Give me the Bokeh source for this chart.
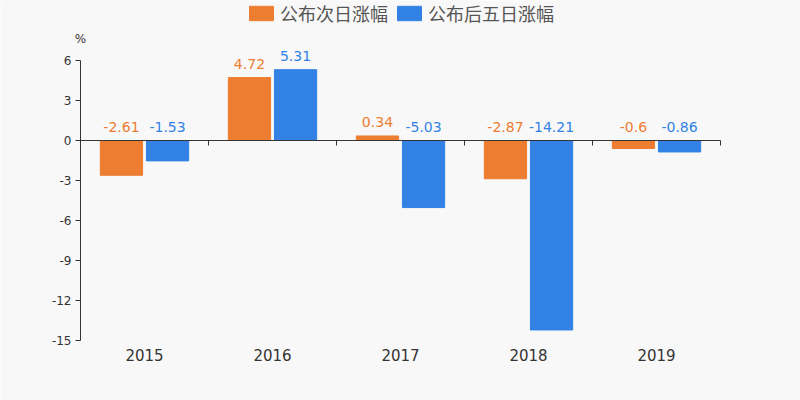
import math
from bokeh.plotting import figure
from bokeh.models import (ColumnDataSource, FactorRange, Range1d, Legend, LegendItem)
from bokeh.core.properties import value
from bokeh.transform import dodge
from bokeh.embed import file_html
from bokeh.resources import INLINE

years = ["2015", "2016", "2017", "2018", "2019"]
next_day = [-2.61, 4.72, 0.34, -2.87, -0.6]
five_day = [-1.53, 5.31, -5.03, -14.21, -0.86]
y_ticks = [-15, -12, -9, -6, -3, 0, 3, 6]
y_min, y_max = -15, 6
series_names = ["公布次日涨幅", "公布后五日涨幅"]
unit_label = "%"

ORANGE = "#ed7d31"
BLUE = "#3182e4"
BG = "#f8f8f8"
AX = "#333333"
FONT = "DejaVu Sans"
CJK = "Noto Sans CJK SC"

PLOT_H = 280                     # pixels from y_max to y_min
px_per_unit = PLOT_H / (y_max - y_min)
CAT_PX = 128                     # pixels per category
SIDE_PAD = 80 / CAT_PX           # frame extends 80 px beyond the categories
MARGIN_V = 60 / px_per_unit      # 60 px above and below the value axis
TICK_FONT_PX = 12
# DejaVu Sans advance widths (em) used to right-align the tick labels
ADV = {"-": 0.361, ".": 0.318}

def fmt(v):
    return f"{v:.2f}".rstrip("0").rstrip(".")

def text_w(s, px):
    return sum(ADV.get(c, 0.636) for c in s) * px

src = ColumnDataSource(dict(
    year=years,
    a=next_day, b=five_day,
    a_lab=[fmt(v) for v in next_day], b_lab=[fmt(v) for v in five_day],
    a_pos=[max(v, 0) for v in next_day], b_pos=[max(v, 0) for v in five_day],
))

p = figure(width=800, height=400,
           x_range=FactorRange(*years, range_padding=SIDE_PAD, range_padding_units="absolute"),
           y_range=Range1d(y_min - MARGIN_V, y_max + MARGIN_V),
           x_axis_location=None, y_axis_location=None,
           output_backend="svg", toolbar_location=None,
           min_border_left=0, min_border_right=0, min_border_top=0, min_border_bottom=0,
           background_fill_color=BG, border_fill_color=BG, outline_line_color=None)
p.xgrid.visible = False
p.ygrid.visible = False

r1 = p.vbar(x=dodge("year", -0.18, range=p.x_range), top="a", bottom=0, width=0.33,
            source=src, fill_color=ORANGE, line_color=ORANGE)
r2 = p.vbar(x=dodge("year", 0.18, range=p.x_range), top="b", bottom=0, width=0.33,
            source=src, fill_color=BLUE, line_color=BLUE)

p.text(x=dodge("year", -0.18, range=p.x_range), y="a_pos", text="a_lab", source=src,
       text_color=ORANGE, text_font=value(FONT), text_font_size="14px", text_align="center",
       text_baseline="bottom", y_offset=-9)
p.text(x=dodge("year", 0.18, range=p.x_range), y="b_pos", text="b_lab", source=src,
       text_color=BLUE, text_font=value(FONT), text_font_size="14px", text_align="center",
       text_baseline="bottom", y_offset=-9)

# zero line from the left edge of the first category to the right edge of the last
zl = ColumnDataSource(dict(a=years[:1], b=years[-1:]))
p.segment(x0=dodge("a", -0.5, range=p.x_range), x1=dodge("b", 0.5, range=p.x_range),
          y0=0, y1=0, source=zl, line_color=AX, line_width=1)
# ticks at category boundaries, pointing down
p.ray(x=dodge("year", 0.5, range=p.x_range), y=0, length=5, length_units="screen",
      angle=-math.pi / 2, source=ColumnDataSource(dict(year=years)),
      line_color=AX, line_width=1)

# category labels below the plot area
p.text(x="year", y=y_min, text="year", source=ColumnDataSource(dict(year=years)),
       text_color=AX, text_font=value(FONT), text_font_size="15px",
       text_align="center", text_baseline="middle", y_offset=14)

# value axis at the left edge of the first category
first = ColumnDataSource(dict(year=years[:1]))
tick_labels = [str(t) for t in y_ticks]
ysrc = ColumnDataSource(dict(year=[years[0]] * len(y_ticks), y=y_ticks, lab=tick_labels,
                             xo=[-(9 + text_w(s, TICK_FONT_PX) / 2) for s in tick_labels]))
p.segment(x0=dodge("year", -0.5, range=p.x_range), x1=dodge("year", -0.5, range=p.x_range),
          y0=y_min, y1=y_max, source=first, line_color=AX, line_width=1)
p.ray(x=dodge("year", -0.5, range=p.x_range), y="y", length=5, length_units="screen",
      angle=math.pi, source=ysrc, line_color=AX, line_width=1)
p.text(x=dodge("year", -0.5, range=p.x_range), y="y", text="lab", source=ysrc,
       text_color=AX, text_font=value(FONT), text_font_size=f"{TICK_FONT_PX}px",
       text_align="center", text_baseline="middle", x_offset="xo")
usrc = ColumnDataSource(dict(year=years[:1], y=[y_max], lab=[unit_label]))
p.text(x=dodge("year", -0.5, range=p.x_range), y="y", text="lab", source=usrc,
       text_color=AX, text_font=value(FONT), text_font_size="12px",
       text_align="center", text_baseline="middle", y_offset=-22)

legend = Legend(items=[LegendItem(label=series_names[0], renderers=[r1]),
                       LegendItem(label=series_names[1], renderers=[r2])],
                orientation="horizontal", location="top_center",
                background_fill_alpha=0, border_line_color=None,
                label_text_font=CJK, label_text_font_size="18px", label_text_color="#555555",
                glyph_width=30, glyph_height=18, spacing=6, padding=4, margin=0,
                label_standoff=4)
p.add_layout(legend, "center")

open("out.html", "w").write(file_html(p, INLINE))
